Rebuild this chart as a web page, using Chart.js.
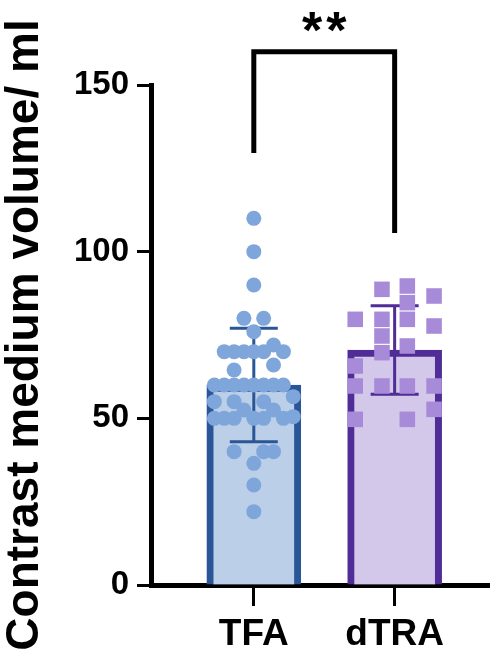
<!DOCTYPE html>
<html>
<head>
<meta charset="utf-8">
<script src="https://cdn.jsdelivr.net/npm/chart.js@4"></script>
<style>
  body { margin: 0; background: #fff; }
  #wrap { width: 500px; height: 668px; }
</style>
</head>
<body>
<div id="wrap"><canvas id="volChart"></canvas></div>
<script>
// groups and summary values
const groups = ['TFA', 'dTRA'];
const groupMeans = [60, 70.5];
const groupSD = [17, 13.3];

// individual values, TFA (circles)
const tfaValues = [110, 100, 90, 80, 80, 76, 70, 70, 70, 70, 70, 70, 72, 64.5, 66,
  60, 60, 60, 60, 60, 60, 60, 60, 55, 55, 55, 52.5, 52.5, 56.5,
  50, 50, 50, 50, 50, 50, 50.5, 40, 40, 40, 36.5, 30, 22];
// horizontal spread of each TFA point (in group units)
const tfaSpread = [0, 0, 0, -0.07, 0.07, 0, -0.21, -0.14, -0.07, 0, 0.07, 0.21, 0.14, -0.14, 0.14,
  -0.28, -0.21, -0.14, -0.07, 0, 0.07, 0.14, 0.21, -0.28, -0.14, 0.07, -0.07, 0.14, 0.28,
  -0.28, -0.21, -0.14, 0, 0.07, 0.21, 0.28, -0.14, 0.07, 0.14, 0, 0, 0];

// individual values, dTRA (squares)
const dtraValues = [88.7, 89.7, 86.7, 84.7, 79.7, 79.7, 79.7, 77.7, 74.7, 71.7, 69.7, 65.7,
  59.7, 59.7, 59.7, 59.7, 52.7, 49.7, 49.7];
const dtraSpread = [-0.09, 0.09, 0.28, 0.09, -0.28, -0.09, 0.09, 0.28, -0.09, 0.09, -0.09, -0.28,
  -0.28, -0.09, 0.09, 0.28, 0.28, -0.28, 0.09];

// significance bracket
const bracketTop = 160;
const bracketEnds = [129.6, 105.6];
const sigLabel = '**';

const yTicks = [0, 50, 100, 150];

const barFill = ['#bccfe9', '#d3c7ea'];
const barEdge = ['#2a5597', '#4f2c96'];
const dotColor = ['#7fa6da', '#a78bd8'];

// error bars drawn right after the bars, below the points
const errorBars = {
  id: 'errorBars',
  afterDatasetDraw(chart, args) {
    if (args.index !== 0) return;
    const ctx = chart.ctx;
    const xs = chart.scales.x, ys = chart.scales.y;
    ctx.save();
    ctx.lineWidth = 3;
    groupMeans.forEach((m, i) => {
      const x = xs.getPixelForValue(i);
      const yHi = ys.getPixelForValue(m + groupSD[i]);
      const yLo = ys.getPixelForValue(m - groupSD[i]);
      ctx.strokeStyle = barEdge[i];
      ctx.beginPath();
      ctx.moveTo(x, yHi); ctx.lineTo(x, yLo);
      ctx.moveTo(x - 24, yHi); ctx.lineTo(x + 24, yHi);
      ctx.moveTo(x - 24, yLo); ctx.lineTo(x + 24, yLo);
      ctx.stroke();
    });
    ctx.restore();
  }
};

// stars above the bracket
const sigStars = {
  id: 'sigStars',
  afterDraw(chart) {
    const ctx = chart.ctx;
    const xs = chart.scales.x, ys = chart.scales.y;
    ctx.save();
    ctx.fillStyle = '#000';
    ctx.font = 'bold 52px "Liberation Sans", Arial, sans-serif';
    ctx.textAlign = 'center';
    ctx.textBaseline = 'alphabetic';
    ctx.letterSpacing = '4px';
    ctx.fillText(sigLabel, (xs.getPixelForValue(0) + xs.getPixelForValue(1)) / 2 + 2,
      ys.getPixelForValue(bracketTop) - 4);
    ctx.restore();
  }
};

const ctx = document.getElementById('volChart').getContext('2d');
new Chart(ctx, {
  type: 'bar',
  data: {
    datasets: [
      {
        type: 'bar',
        data: groupMeans.map((m, i) => ({ x: i, y: m })),
        backgroundColor: barFill,
        borderColor: barEdge,
        borderWidth: 7,
        barThickness: 94,
        order: 3
      },
      {
        type: 'line',
        data: [
          { x: 0, y: bracketEnds[0] },
          { x: 0, y: bracketTop },
          { x: 1, y: bracketTop },
          { x: 1, y: bracketEnds[1] }
        ],
        borderColor: '#000',
        borderWidth: 5,
        borderJoinStyle: 'miter',
        pointRadius: 0,
        fill: false,
        clip: false,
        order: 2
      },
      {
        type: 'scatter',
        data: tfaValues.map((v, i) => ({ x: 0 + tfaSpread[i], y: v })),
        backgroundColor: dotColor[0],
        borderWidth: 0,
        pointRadius: 7.5,
        pointStyle: 'circle',
        order: 1
      },
      {
        type: 'scatter',
        data: dtraValues.map((v, i) => ({ x: 1 + dtraSpread[i], y: v })),
        backgroundColor: dotColor[1],
        borderWidth: 0,
        pointRadius: 11,
        pointStyle: 'rect',
        order: 1
      }
    ]
  },
  options: {
    responsive: true,
    maintainAspectRatio: false,
    animation: false,
    layout: { padding: { top: 85, right: 5, left: 0, bottom: 0 } },
    plugins: {
      legend: { display: false },
      tooltip: { enabled: false }
    },
    scales: {
      x: {
        type: 'linear',
        min: -0.73,
        max: 1.67,
        offset: false,
        grid: { drawOnChartArea: false, tickLength: 21, tickWidth: 3, tickColor: '#000', offset: false },
        border: { display: true, color: '#000', width: 5 },
        afterBuildTicks: axis => { axis.ticks = groups.map((g, i) => ({ value: i })); },
        afterFit: s => { s.height = 83; },
        ticks: {
          color: '#000',
          padding: 7,
          autoSkip: false,
          maxRotation: 0,
          font: { family: '"Liberation Sans", Arial, sans-serif', size: 37, weight: 'bold' },
          callback: v => groups[v]
        }
      },
      y: {
        min: 0,
        max: 150,
        grid: { drawOnChartArea: false, tickLength: 14, tickWidth: 3, tickColor: '#000' },
        border: { display: true, color: '#000', width: 5 },
        afterBuildTicks: axis => { axis.ticks = yTicks.map(v => ({ value: v })); },
        afterFit: s => { s.width = 151; },
        ticks: {
          color: '#000',
          padding: 8,
          font: { family: '"Liberation Sans", Arial, sans-serif', size: 33, weight: 'bold' }
        },
        title: {
          display: true,
          text: 'Contrast medium volume/ ml',
          color: '#000',
          padding: 0,
          font: { family: '"Liberation Sans", Arial, sans-serif', size: 46, weight: 'bold', lineHeight: 1.1 }
        }
      }
    }
  },
  plugins: [errorBars, sigStars]
});
</script>
</body>
</html>
